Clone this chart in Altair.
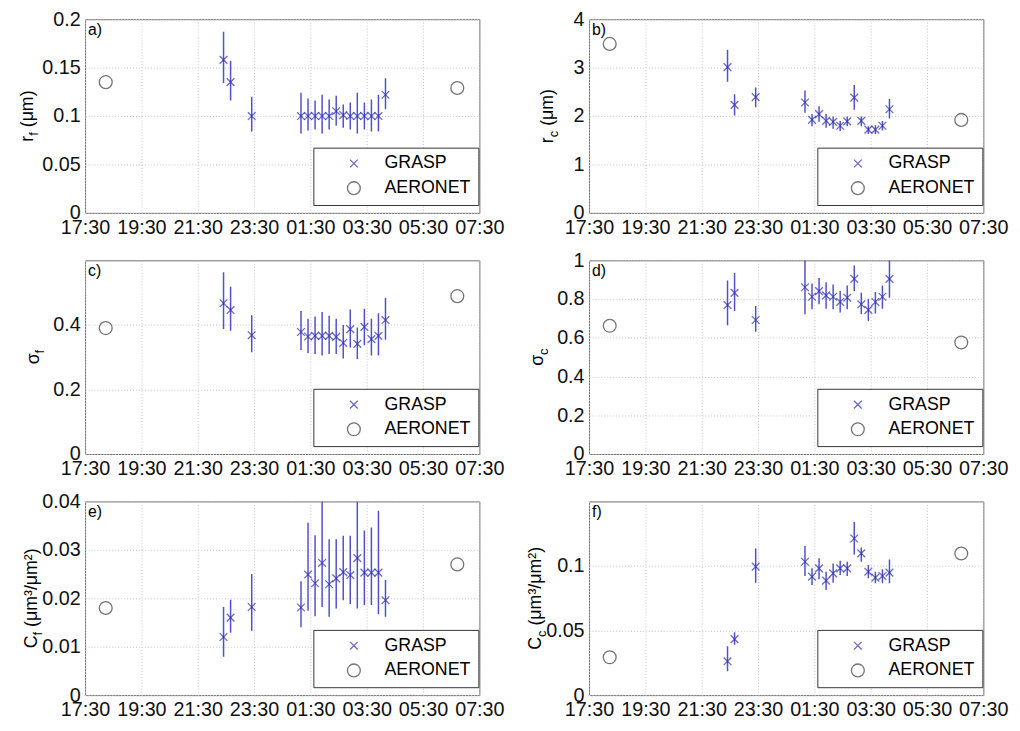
import altair as alt
import pandas as pd

# ---------------- data ----------------
grasp_times = ["22:25", "22:40", "23:25", "01:10", "01:25", "01:40", "01:55", "02:10",
               "02:25", "02:40", "02:55", "03:10", "03:25", "03:40", "03:55", "04:10"]
aeronet_times = ["18:14", "06:43"]

# a) r_f (um)
rf_val = [0.158, 0.135, 0.100, 0.100, 0.100, 0.100, 0.100, 0.100, 0.105, 0.101, 0.100, 0.100, 0.100, 0.100, 0.100, 0.122]
rf_lo = [0.134, 0.116, 0.084, 0.082, 0.085, 0.086, 0.082, 0.086, 0.090, 0.088, 0.086, 0.082, 0.086, 0.084, 0.084, 0.107]
rf_hi = [0.187, 0.157, 0.120, 0.124, 0.118, 0.116, 0.122, 0.117, 0.121, 0.112, 0.114, 0.124, 0.114, 0.117, 0.122, 0.139]
rf_aer = [0.135, 0.129]

# b) r_c (um)
rc_val = [3.01, 2.23, 2.39, 2.28, 1.92, 2.04, 1.90, 1.88, 1.80, 1.89, 2.38, 1.90, 1.72, 1.72, 1.80, 2.14]
rc_lo = [2.71, 2.01, 2.18, 2.07, 1.79, 1.88, 1.76, 1.74, 1.69, 1.79, 2.13, 1.79, 1.63, 1.63, 1.70, 1.95]
rc_hi = [3.37, 2.45, 2.59, 2.53, 2.04, 2.20, 2.04, 1.99, 1.90, 1.99, 2.64, 1.99, 1.79, 1.81, 1.90, 2.35]
rc_aer = [3.49, 1.92]

# c) sigma_f
sf_val = [0.467, 0.446, 0.368, 0.378, 0.364, 0.366, 0.366, 0.366, 0.363, 0.344, 0.387, 0.341, 0.394, 0.356, 0.366, 0.415]
sf_lo = [0.387, 0.382, 0.315, 0.322, 0.312, 0.310, 0.305, 0.310, 0.310, 0.296, 0.330, 0.294, 0.337, 0.305, 0.305, 0.354]
sf_hi = [0.563, 0.518, 0.430, 0.443, 0.419, 0.426, 0.440, 0.428, 0.419, 0.400, 0.448, 0.392, 0.450, 0.419, 0.436, 0.484]
sf_aer = [0.390, 0.489]

# d) sigma_c
sc_val = [0.769, 0.832, 0.692, 0.861, 0.812, 0.841, 0.819, 0.812, 0.785, 0.807, 0.904, 0.773, 0.744, 0.785, 0.812, 0.904]
sc_lo = [0.665, 0.738, 0.631, 0.721, 0.747, 0.773, 0.750, 0.747, 0.730, 0.747, 0.841, 0.721, 0.687, 0.726, 0.750, 0.807]
sc_hi = [0.896, 0.935, 0.764, 1.000, 0.880, 0.909, 0.887, 0.875, 0.841, 0.870, 0.973, 0.832, 0.802, 0.836, 0.870, 1.000]
sc_aer = [0.662, 0.576]

# e) C_f (um3/um2)
cf_val = [0.0120, 0.0160, 0.0182, 0.0181, 0.0249, 0.0231, 0.0273, 0.0229, 0.0241, 0.0254, 0.0248, 0.0283, 0.0253, 0.0253, 0.0253, 0.0196]
cf_lo = [0.0079, 0.0129, 0.0133, 0.0140, 0.0174, 0.0163, 0.0182, 0.0162, 0.0179, 0.0196, 0.0188, 0.0179, 0.0186, 0.0186, 0.0167, 0.0162]
cf_hi = [0.0182, 0.0197, 0.0250, 0.0235, 0.0356, 0.0330, 0.0400, 0.0322, 0.0322, 0.0329, 0.0329, 0.0400, 0.0340, 0.0346, 0.0381, 0.0238]
cf_aer = [0.0180, 0.0270]

# f) C_c (um3/um2)
cc_val = [0.0262, 0.0434, 0.0995, 0.1033, 0.0918, 0.0982, 0.0887, 0.0943, 0.0982, 0.0982, 0.1213, 0.1098, 0.0956, 0.0910, 0.0923, 0.0949]
cc_lo = [0.0185, 0.0390, 0.0871, 0.0923, 0.0853, 0.0897, 0.0815, 0.0871, 0.0930, 0.0923, 0.1090, 0.1033, 0.0905, 0.0866, 0.0866, 0.0866]
cc_hi = [0.0378, 0.0486, 0.1136, 0.1154, 0.0982, 0.1060, 0.0956, 0.1020, 0.1040, 0.1033, 0.1340, 0.1144, 0.1008, 0.0956, 0.0974, 0.1051]
cc_aer = [0.0293, 0.1097]

x_ticks = [17.5, 19.5, 21.5, 23.5, 25.5, 27.5, 29.5, 31.5]
series_names = ["GRASP", "AERONET"]

# ---------------- style ----------------
FONT = "Liberation Sans"
BLUE_X = "#2b2bb0"
BLUE_BAR = "#5050cc"
GRAY = "#3a3a3a"
XPATH = "M-0.6,-0.6L0.6,0.6M-0.6,0.6L0.6,-0.6"
W, H = 399, 196
TFS, SFS = 18, 13

EM = {"r": 0.333, "f": 0.278, "c": 0.5, "C": 0.722, "σ": 0.6, " ": 0.278, "(": 0.333, ")": 0.333,
      "μ": 0.576, "m": 0.833, "³": 0.333, "²": 0.333, "/": 0.278}


def tw(s, fs):
    return sum(EM.get(ch, 0.55) for ch in s) * fs


def to_hours(s):
    h, m = map(int, s.split(":"))
    v = h + m / 60
    return v + 24 if v < 12 else v


one = pd.DataFrame({"k": [0]})


def panel(letter, vals, lo, hi, aer, ymax, yticks, parts, title_x):
    g = pd.DataFrame({"t": [to_hours(s) for s in grasp_times], "v": vals, "lo": lo, "hi": hi,
                      "source": "GRASP"})
    a = pd.DataFrame({"t": [to_hours(s) for s in aeronet_times], "v": aer, "source": "AERONET"})
    df = pd.concat([g, a], ignore_index=True)

    xenc = alt.X("t:Q", scale=alt.Scale(domain=[17.5, 31.5], nice=False, zero=False),
                 axis=alt.Axis(values=x_ticks, title=None, labelFlush=False, labelOverlap=False,
                               labelExpr="format(floor(datum.value % 24), '02d') + ':' + format(round((datum.value % 1) * 60), '02d')"))
    yscale = alt.Scale(domain=[0, ymax], nice=False, zero=True)
    yaxis = alt.Axis(values=yticks, format="~g", title=None, labelOverlap=False)

    leg = alt.Legend(title=None, orient="none", legendX=231, legendY=130, direction="vertical",
                     fillColor="white", strokeColor="#333333", padding=7, cornerRadius=0,
                     labelFont=FONT, labelFontSize=18, labelColor="black", symbolSize=169,
                     symbolStrokeWidth=1.3, symbolOffset=25, labelOffset=22, rowPadding=6)

    base = alt.Chart(df)
    bars = base.transform_filter("datum.source == 'GRASP'").mark_rule(
        color=BLUE_BAR, strokeWidth=1.5, clip=True).encode(
        x=xenc, y=alt.Y("lo:Q", scale=yscale, axis=yaxis), y2="hi:Q")
    pts = base.mark_point(filled=False, size=169, strokeWidth=1.3, clip=True).encode(
        x=xenc, y=alt.Y("v:Q", scale=yscale, axis=yaxis),
        color=alt.Color("source:N", scale=alt.Scale(domain=series_names, range=[BLUE_X, GRAY]), legend=leg),
        shape=alt.Shape("source:N", scale=alt.Scale(domain=series_names, range=[XPATH, "circle"]), legend=leg))

    lab = alt.Chart(one).mark_text(align="left", baseline="top", font=FONT, fontSize=16, color="black").encode(
        x=alt.value(3), y=alt.value(3), text=alt.value(letter))

    main, sub, rest = parts
    rest = rest.strip()
    gap = tw(" ", TFS) if rest else 0
    wm, ws, wr = tw(main, TFS), tw(sub, SFS), tw(rest, TFS)
    start = -(wm + ws + gap + wr) / 2
    texts = [
        alt.Chart(one).mark_text(angle=270, align="left", baseline="alphabetic", font=FONT, fontSize=TFS,
                                 color="black", dx=start, dy=0).encode(
            x=alt.value(title_x), y=alt.value(H / 2), text=alt.value(main)),
        alt.Chart(one).mark_text(angle=270, align="left", baseline="alphabetic", font=FONT, fontSize=SFS,
                                 color="black", dx=start + wm, dy=5).encode(
            x=alt.value(title_x), y=alt.value(H / 2), text=alt.value(sub)),
    ]
    if rest:
        texts.append(alt.Chart(one).mark_text(angle=270, align="left", baseline="alphabetic", font=FONT,
                                              fontSize=TFS, color="black", dx=start + wm + ws + gap, dy=0).encode(
            x=alt.value(title_x), y=alt.value(H / 2), text=alt.value(rest)))

    return alt.layer(bars, pts, lab, *texts).properties(width=W, height=H)


pa = panel("a)", rf_val, rf_lo, rf_hi, rf_aer, 0.2, [0, 0.05, 0.1, 0.15, 0.2], ("r", "f", " (μm)"), -53)
pb = panel("b)", rc_val, rc_lo, rc_hi, rc_aer, 4, [0, 1, 2, 3, 4], ("r", "c", " (μm)"), -36)
pc = panel("c)", sf_val, sf_lo, sf_hi, sf_aer, 0.6, [0, 0.2, 0.4], ("σ", "f", ""), -47)
pd_ = panel("d)", sc_val, sc_lo, sc_hi, sc_aer, 1, [0, 0.2, 0.4, 0.6, 0.8, 1], ("σ", "c", ""), -47)
pe = panel("e)", cf_val, cf_lo, cf_hi, cf_aer, 0.04, [0, 0.01, 0.02, 0.03, 0.04], ("C", "f", " (μm³/μm²)"), -49)
pf = panel("f)", cc_val, cc_lo, cc_hi, cc_aer, 0.15, [0, 0.05, 0.1], ("C", "c", " (μm³/μm²)"), -49)

chart = alt.concat(pa, pb, pc, pd_, pe, pf, columns=2,
                   spacing=alt.RowColnumber(row=48, column=111), bounds="flush").resolve_scale(
    color="independent", shape="independent").properties(
    autosize=alt.AutoSizeParams(type="none"),
    padding={"left": 78, "top": 7, "right": 938, "bottom": 719}
).configure_view(stroke="#6e6e6e", strokeWidth=1).configure_axis(
    labelFont=FONT, labelFontSize=20, labelColor="#111111", grid=True, gridColor="#c4c4c4",
    gridDash=[1, 2], gridWidth=1, domain=False, ticks=False, labelPadding=5)

chart.save("out.html", embed_options={"renderer": "svg", "actions": False})
